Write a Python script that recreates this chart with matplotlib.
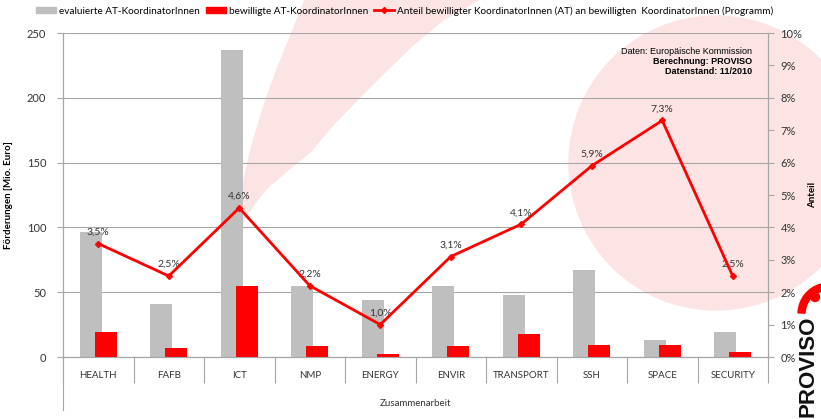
import matplotlib
matplotlib.use('Agg')
import matplotlib.pyplot as plt
import matplotlib.patches as mpatches
from matplotlib.lines import Line2D
import numpy as np

plt.rcParams['font.family'] = ['Lato', 'DejaVu Sans']

# Daten
kategorien = ['HEALTH', 'FAFB', 'ICT', 'NMP', 'ENERGY', 'ENVIR', 'TRANSPORT', 'SSH', 'SPACE', 'SECURITY']
evaluiert = [96.5, 41, 237, 55, 44, 55, 48, 67, 13, 19]
bewilligt = [19, 7, 55, 8.5, 2, 8.5, 18, 9, 9, 3.5]
anteil = [3.5, 2.5, 4.6, 2.2, 1.0, 3.1, 4.1, 5.9, 7.3, 2.5]

W, H = 821, 419
fig = plt.figure(figsize=(W / 100, H / 100), dpi=100)

def px(x, y):
    # Pixel (von oben links) -> Zoll fuer dpi_scale_trans
    return (x / 100, (H - y) / 100)

tr = fig.dpi_scale_trans

# Hintergrund: rosa Kreis und Bogen
rosa = '#fde4e4'
fig.patches.append(mpatches.Circle(px(716, 163), 147 / 100, transform=tr, color=rosa, zorder=-5))
links = [(306, -2), (297, 20), (287, 45), (276, 72), (267, 97), (258, 125), (250, 153),
         (245, 175), (241, 200), (239, 218), (238, 232)]
rechts = [(245, 218), (255, 203), (267, 188), (288, 170), (310, 152), (333, 125), (357, 100),
          (385, 72), (413, 45), (443, 20), (482, -2)]
fig.patches.append(mpatches.Polygon([px(a, b) for a, b in links + rechts], closed=True,
                                    transform=tr, color=rosa, zorder=-5))

ax = fig.add_axes([63 / W, 1 - 357 / H, (768 - 63) / W, (357 - 33) / H])
ax.set_facecolor('none')
ax2 = ax.twinx()

x = np.arange(len(kategorien))
bw = 0.31
off = 0.107
ax.bar(x - off, evaluiert, bw, color='#bfbfbf', zorder=2)
ax.bar(x + off, bewilligt, bw, color='#ff0000', zorder=3)

ax.set_xlim(-0.5, len(kategorien) - 0.5)
ax.set_ylim(0, 250)
ax.set_yticks(np.arange(0, 251, 50))
ax.grid(axis='y', color='#a6a6a6', linewidth=0.8, zorder=1)
ax.set_axisbelow(True)

gridcol = '#a6a6a6'
for a in (ax, ax2):
    for s in a.spines.values():
        s.set_color(gridcol)
    a.spines['top'].set_visible(False)

ax.set_xticks(x)
ax.set_xticklabels(kategorien, fontsize=7, color='#333333')
ax.tick_params(axis='x', length=0, pad=10)
ax.set_xticks(np.arange(-0.5, len(kategorien)), minor=True)
ax.tick_params(axis='x', which='minor', length=19, color=gridcol, width=0.8)
ax.plot([0, 0], [0, -0.165], transform=ax.transAxes, color=gridcol, lw=0.8, clip_on=False)

ax.tick_params(axis='y', labelsize=8, colors='#333333', length=4, color=gridcol, pad=8)
ax.set_ylabel('Förderungen [Mio. Euro]', fontsize=7, fontweight='bold', labelpad=10)
ax.set_xlabel('Zusammenarbeit', fontsize=7, color='#333333', labelpad=8)

ax2.plot(x, anteil, color='#ff0000', lw=2, marker='D', markersize=3, zorder=4)
ax2.set_ylim(0, 10)
ax2.set_yticks(np.arange(0, 11, 1))
ax2.set_yticklabels([f'{v}%' for v in range(11)])
ax2.tick_params(axis='y', labelsize=8, colors='#333333', length=4, color=gridcol, pad=5)
ax2.set_ylabel('Anteil', fontsize=7, fontweight='bold', labelpad=4)
for xi, v in zip(x, anteil):
    ax2.annotate(f'{v:.1f}%'.replace('.', ','), (xi, v), xytext=(0, 5),
                 textcoords='offset points', ha='center', va='bottom',
                 fontsize=7.5, color='#333333')

# Quelle
fig.text(752 / W, 1 - 52 / H, 'Daten: Europäische Kommission', ha='right', va='center',
         fontsize=6.5, family='Liberation Sans')
fig.text(752 / W, 1 - 62 / H, 'Berechnung: PROVISO', ha='right', va='center',
         fontsize=6.5, family='Liberation Sans', fontweight='bold')
fig.text(752 / W, 1 - 72 / H, 'Datenstand: 11/2010', ha='right', va='center',
         fontsize=6.5, family='Liberation Sans', fontweight='bold')

# Legende
handles = [mpatches.Patch(color='#bfbfbf'), mpatches.Patch(color='#ff0000'),
           Line2D([], [], color='#ff0000', lw=2, marker='D', markersize=3)]
labels = ['evaluierte AT-KoordinatorInnen', 'bewilligte AT-KoordinatorInnen',
          'Anteil bewilligter KoordinatorInnen (AT) an bewilligten  KoordinatorInnen (Programm)']
fig.legend(handles, labels, loc='center', bbox_to_anchor=(405 / W, 1 - 11 / H), ncol=3,
           frameon=False, fontsize=7.2, handlelength=2.0, handleheight=0.6,
           handletextpad=0.3, columnspacing=0.6)

# Logo
fig.patches.append(mpatches.Wedge(px(829, 314), 0.31, 105, 178, width=0.07,
                                  transform=tr, color='#ff0000', zorder=5))
fig.patches.append(mpatches.Circle(px(815, 297), 0.045, transform=tr, color='#ff0000', zorder=5))
fig.text(797 / W, 1 - 417 / H, 'PROVISO', rotation=90, ha='left', va='bottom',
         fontsize=16, fontweight='bold', family='Liberation Sans', color='#111111')

fig.savefig('out.png', dpi=100)
